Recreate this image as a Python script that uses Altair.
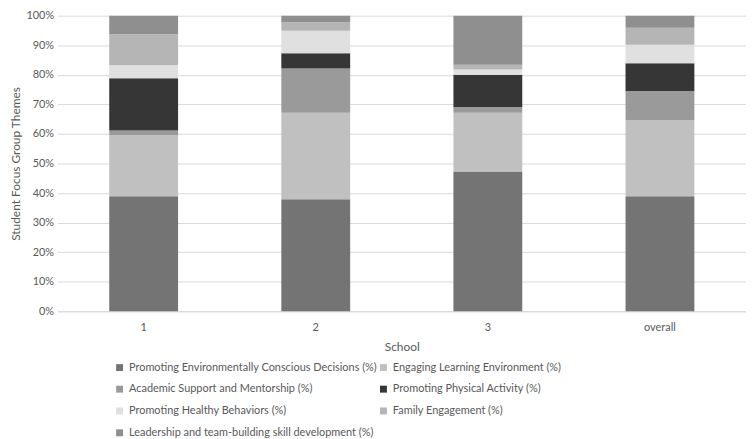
import altair as alt
import pandas as pd

schools = ["1", "2", "3", "overall"]
themes = [
    "Promoting Environmentally Conscious Decisions (%)",
    "Engaging Learning Environment (%)",
    "Academic Support and Mentorship (%)",
    "Promoting Physical Activity (%)",
    "Promoting Healthy Behaviors (%)",
    "Family Engagement (%)",
    "Leadership and team-building skill development (%)",
]
colors = ["#747474", "#c0c0c0", "#9a9a9a", "#363636", "#e0e0e0", "#b5b5b5", "#8f8f8f"]

env = [38.9, 37.9, 47.3, 38.9]
engaging = [20.7, 29.3, 19.9, 25.8]
academic = [1.6, 14.9, 1.9, 9.8]
physical = [17.6, 5.2, 10.8, 9.4]
healthy = [4.4, 7.6, 1.9, 6.3]
family = [10.5, 2.9, 1.6, 5.7]
leadership = [6.3, 2.2, 16.6, 4.1]

series = [env, engaging, academic, physical, healthy, family, leadership]

rows = []
for ti, (theme, vals) in enumerate(zip(themes, series)):
    for school, v in zip(schools, vals):
        rows.append({"School": school, "Theme": theme, "Value": v, "idx": ti})
df = pd.DataFrame(rows)

FONT = "Lato"
TXT = "#595959"

chart = (
    alt.Chart(df)
    .mark_bar()
    .encode(
        x=alt.X(
            "School:N",
            sort=schools,
            scale=alt.Scale(paddingInner=0.6, paddingOuter=0.3),
            axis=alt.Axis(
                title="School",
                labelAngle=0,
                ticks=False,
                domainColor="#d9d9d9",
                labelPadding=10,
                titlePadding=10,
                labelFont=FONT,
                titleFont=FONT,
                labelColor=TXT,
                titleColor=TXT,
                labelFontSize=11,
                titleFontSize=12,
                titleFontWeight="normal",
            ),
        ),
        y=alt.Y(
            "Value:Q",
            stack="normalize",
            scale=alt.Scale(domain=[0, 1], nice=False),
            axis=alt.Axis(
                title="Student Focus Group Themes",
                format=".0%",
                values=[i / 10 for i in range(11)],
                domain=False,
                ticks=False,
                gridColor="#d9d9d9",
                labelPadding=4,
                titlePadding=3,
                labelFont=FONT,
                titleFont=FONT,
                labelColor=TXT,
                titleColor=TXT,
                labelFontSize=11,
                titleFontSize=12,
                titleFontWeight="normal",
            ),
        ),
        color=alt.Color(
            "Theme:N",
            scale=alt.Scale(domain=themes, range=colors),
            legend=alt.Legend(
                title=None,
                orient="none",
                direction="horizontal",
                legendX=57,
                legendY=349,
                columns=2,
                columnPadding=-5,
                rowPadding=10,
                symbolType="square",
                symbolSize=49,
                symbolStrokeWidth=0,
                labelFont=FONT,
                labelFontSize=11,
                labelColor=TXT,
                labelLimit=400,
                labelOffset=4,
            ),
        ),
        order=alt.Order("idx:Q", sort="ascending"),
    )
    .properties(
        width=694,
        height=298,
        autosize=alt.AutoSizeParams(type="none"),
        padding={"left": 50, "top": 6, "right": 0, "bottom": 127},
    )
    .configure_view(stroke=None)
    .configure_axis(gridColor="#d9d9d9")
)

chart.save("out.html", embed_options={"renderer": "svg", "actions": False})
